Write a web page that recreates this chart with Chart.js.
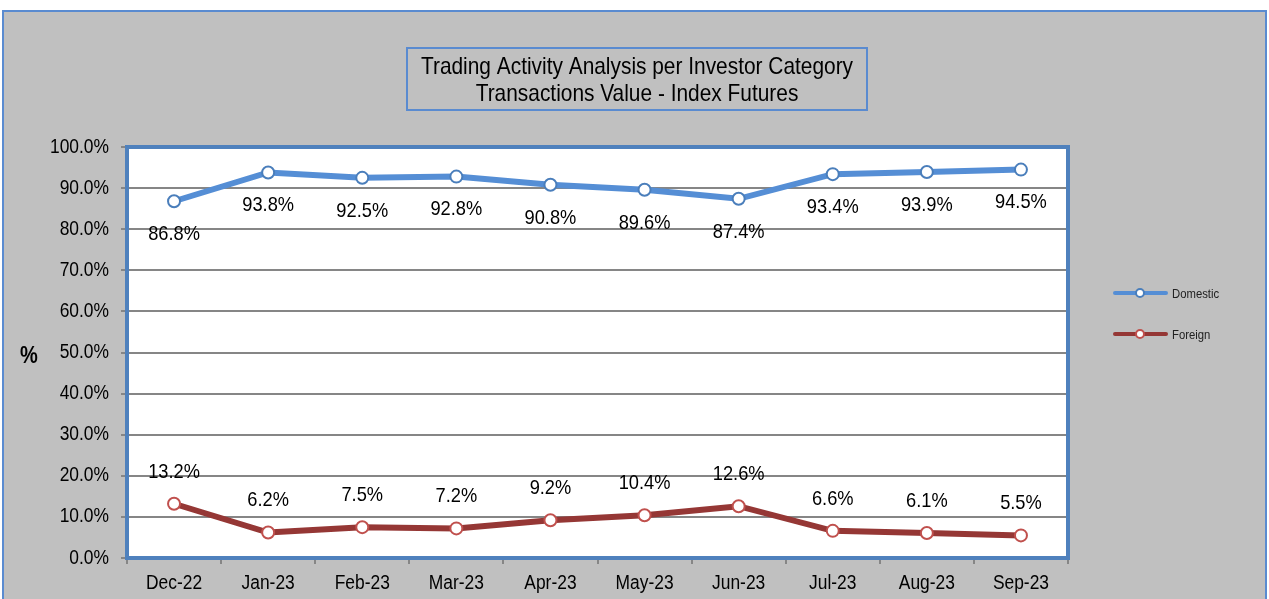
<!DOCTYPE html>
<html>
<head>
<meta charset="utf-8">
<script src="https://cdn.jsdelivr.net/npm/chart.js@4"></script>
<style>
  html, body { margin: 0; padding: 0; background: #fff; }
  #wrap { width: 1269px; height: 599px; }
</style>
</head>
<body>
<div id="wrap"><canvas id="chart" width="1269" height="599"></canvas></div>
<script>
// datos del gráfico
const months = ['Dec-22', 'Jan-23', 'Feb-23', 'Mar-23', 'Apr-23', 'May-23', 'Jun-23', 'Jul-23', 'Aug-23', 'Sep-23'];
const domestic = [86.8, 93.8, 92.5, 92.8, 90.8, 89.6, 87.4, 93.4, 93.9, 94.5];
const foreign = [13.2, 6.2, 7.5, 7.2, 9.2, 10.4, 12.6, 6.6, 6.1, 5.5];
const titleLines = ['Trading Activity Analysis per Investor Category', 'Transactions Value - Index Futures'];

const FONT = "'Liberation Sans', Arial, sans-serif";
const BLUE = '#5A8BD0';
const NARROW = 0.87;

// texto estrecho (imita Arial Narrow)
function narrowText(ctx, text, x, y, size, align, weight) {
  ctx.save();
  ctx.translate(x, y);
  ctx.scale(NARROW, 1);
  ctx.font = (weight || '') + ' ' + size + 'px ' + FONT;
  ctx.textAlign = align || 'center';
  ctx.textBaseline = 'middle';
  ctx.fillText(text, 0, 0);
  ctx.restore();
}

// fondo, marco y área blanca
const backgroundPlugin = {
  id: 'background',
  beforeDraw(chart) {
    const { ctx, chartArea: a } = chart;
    ctx.save();
    ctx.fillStyle = '#fff';
    ctx.fillRect(0, 0, chart.width, chart.height);
    ctx.fillStyle = '#C0C0C0';
    ctx.fillRect(2, 10, 1265, 589);
    ctx.strokeStyle = BLUE;
    ctx.lineWidth = 2;
    ctx.beginPath();
    ctx.moveTo(3, 599);
    ctx.lineTo(3, 11);
    ctx.lineTo(1266, 11);
    ctx.lineTo(1266, 599);
    ctx.stroke();
    ctx.fillStyle = '#fff';
    ctx.fillRect(a.left, a.top, a.right - a.left, a.bottom - a.top);
    ctx.restore();
  },
  beforeDatasetsDraw(chart) {
    const { ctx, chartArea: a } = chart;
    ctx.save();
    ctx.strokeStyle = '#4F81BD';
    ctx.lineWidth = 4;
    ctx.strokeRect(a.left, a.top, a.right - a.left, a.bottom - a.top);
    ctx.restore();
  }
};

// etiquetas, título, ejes y leyenda
const labelsPlugin = {
  id: 'labels',
  afterDraw(chart) {
    const { ctx, scales } = chart;
    ctx.save();
    ctx.fillStyle = '#000';

    // valores
    chart.data.datasets.forEach((ds, i) => {
      const meta = chart.getDatasetMeta(i);
      meta.data.forEach((pt, j) => {
        const dy = i === 0 ? 33 : -32;
        narrowText(ctx, ds.data[j].toFixed(1) + '%', pt.x, pt.y + dy, 21);
      });
    });

    // etiquetas de los ejes
    scales.y.ticks.forEach(t => {
      narrowText(ctx, t.value.toFixed(1) + '%', 109, scales.y.getPixelForValue(t.value), 20, 'right');
    });
    months.forEach((m, i) => {
      narrowText(ctx, m, scales.x.getPixelForValue(i), 583, 20);
    });

    // título
    ctx.strokeStyle = BLUE;
    ctx.lineWidth = 2;
    ctx.strokeRect(407, 48, 460, 62);
    narrowText(ctx, titleLines[0], 637, 67, 24);
    narrowText(ctx, titleLines[1], 637, 94, 24);

    // eje y
    narrowText(ctx, '%', 29, 357, 23, 'center', 'bold');

    // leyenda
    const items = [[0, 293], [1, 334]];
    items.forEach(([i, y]) => {
      const ds = chart.data.datasets[i];
      ctx.strokeStyle = ds.borderColor;
      ctx.lineWidth = 4;
      ctx.lineCap = 'round';
      ctx.beginPath();
      ctx.moveTo(1115, y);
      ctx.lineTo(1166, y);
      ctx.stroke();
      ctx.beginPath();
      ctx.arc(1140, y, 4, 0, Math.PI * 2);
      ctx.fillStyle = '#fff';
      ctx.fill();
      ctx.lineWidth = 2;
      ctx.strokeStyle = ds.pointBorderColor;
      ctx.stroke();
      ctx.fillStyle = '#222';
      narrowText(ctx, ds.label, 1172, y + 1, 13, 'left');
    });
    ctx.restore();
  }
};

const ctx = document.getElementById('chart').getContext('2d');
new Chart(ctx, {
  type: 'line',
  data: {
    labels: months,
    datasets: [
      {
        label: 'Domestic',
        data: domestic,
        borderColor: '#558ED5',
        borderWidth: 6,
        pointBackgroundColor: '#fff',
        pointBorderColor: '#4A7EBB',
        pointBorderWidth: 2,
        pointRadius: 6
      },
      {
        label: 'Foreign',
        data: foreign,
        borderColor: '#953735',
        borderWidth: 6,
        pointBackgroundColor: '#fff',
        pointBorderColor: '#C0504D',
        pointBorderWidth: 2,
        pointRadius: 6
      }
    ]
  },
  options: {
    responsive: false,
    animation: false,
    layout: { padding: { left: 0, top: 147, right: 201, bottom: 0 } },
    plugins: {
      legend: { display: false },
      title: { display: false },
      tooltip: { enabled: false }
    },
    scales: {
      x: {
        offset: true,
        afterFit(scale) { scale.height = 41; },
        grid: { offset: true, drawOnChartArea: false, color: '#868686', lineWidth: 2, tickLength: 6 },
        border: { display: false },
        ticks: { color: 'rgba(0,0,0,0)', font: { family: FONT, size: 17 }, padding: 6, maxRotation: 0 }
      },
      y: {
        min: 0,
        max: 100,
        afterFit(scale) { scale.width = 127; },
        grid: { color: '#868686', lineWidth: 2, tickLength: 6 },
        border: { display: false },
        ticks: {
          stepSize: 10,
          color: 'rgba(0,0,0,0)',
          font: { family: FONT, size: 17 },
          padding: 10,
          callback: v => v.toFixed(1) + '%'
        }
      }
    }
  },
  plugins: [backgroundPlugin, labelsPlugin]
});
</script>
</body>
</html>
